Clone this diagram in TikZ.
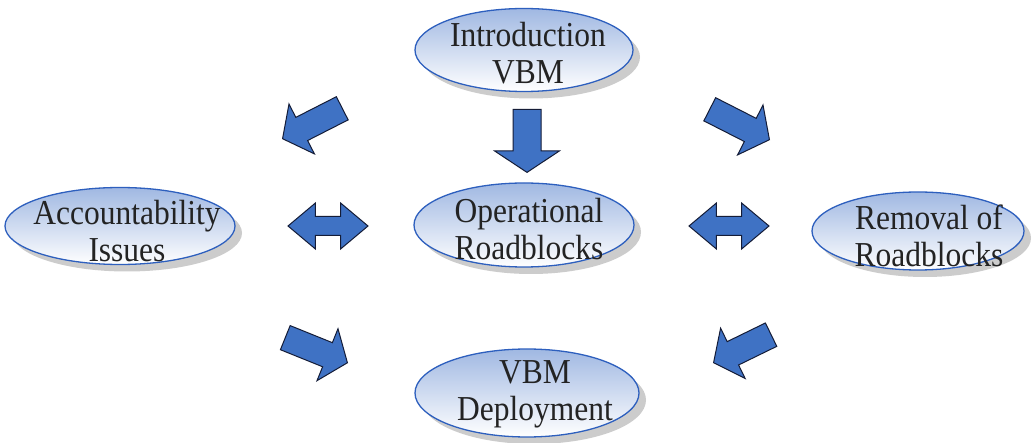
\documentclass[tikz,border=0pt]{standalone}
\usepackage{fontspec}
\setmainfont{Liberation Serif}
\newfontfamily\timesfont[FakeStretch=0.9]{Liberation Serif}
\usetikzlibrary{shapes.geometric,shapes.arrows,shadows}
\definecolor{bubbleedge}{RGB}{45,95,190}
\definecolor{bubbletop}{RGB}{160,184,226}
\definecolor{arrowblue}{RGB}{63,114,196}
\definecolor{arrowedge}{RGB}{20,28,55}
\definecolor{txtcol}{RGB}{35,35,35}
\begin{document}
\begin{tikzpicture}[x=1pt,y=-1pt,
  bubble/.style={ellipse, draw=bubbleedge, line width=1.3pt,
    top color=bubbletop, bottom color=white, inner sep=0pt,
    drop shadow={shadow xshift=7pt, shadow yshift=-7pt, fill=gray!40, opacity=1}},
  bubbletext/.style={text=txtcol, font=\timesfont\fontsize{35}{37}\selectfont, align=center, inner sep=0pt},
  onearrow/.style={single arrow, draw=arrowedge, fill=arrowblue, line width=1pt,
    inner xsep=0pt, inner ysep=12.5pt, single arrow head extend=15pt,
    single arrow tip angle=105, minimum height=67pt},
  twoarrow/.style={double arrow, draw=arrowedge, fill=arrowblue, line width=1pt,
    inner xsep=0pt, inner ysep=9pt, double arrow head extend=13.5pt,
    double arrow tip angle=80, minimum height=80pt}
]
\useasboundingbox[fill=white] (0,0) rectangle (1033,443);

% ellipses
\node[bubble, minimum width=218pt, minimum height=83pt] (intro) at (524,50) {};
\node[bubbletext] (introtxt) at (528,53) {Introduction\\VBM};

\node[bubble, minimum width=220pt, minimum height=84pt] (oper) at (524,225) {};
\node[bubbletext] (opertxt) at (529,229) {Operational\\Roadblocks};

\node[bubble, minimum width=230pt, minimum height=77pt] (acc) at (120,226) {};
\node[bubbletext] (acctxt) at (127,231) {Accountability\\Issues};

\node[bubble, minimum width=212pt, minimum height=78pt] (rem) at (918,231) {};
\node[bubbletext] (remtxt) at (929,236) {Removal of\\Roadblocks};

\node[bubble, minimum width=224pt, minimum height=88pt] (dep) at (527,393) {};
\node[bubbletext] (deptxt) at (535,394) {VBM\\Deployment};

% block arrows
\node[onearrow, inner ysep=13.5pt, single arrow head extend=18.5pt,
      single arrow tip angle=113, minimum height=63pt, rotate=-90, anchor=tip] (adown) at (527,173) {};
\node[onearrow, rotate=207, anchor=tip] (aul) at (282,139) {};
\node[onearrow, rotate=-27, anchor=tip] (aur) at (770,140) {};
\node[onearrow, rotate=-22, anchor=tip] (all) at (348,363) {};
\node[onearrow, rotate=206, anchor=tip, minimum height=64pt] (alr) at (713,363) {};
\node[twoarrow] (dleft) at (328,226) {};
\node[twoarrow] (dright) at (729,226) {};
\end{tikzpicture}
\end{document}
